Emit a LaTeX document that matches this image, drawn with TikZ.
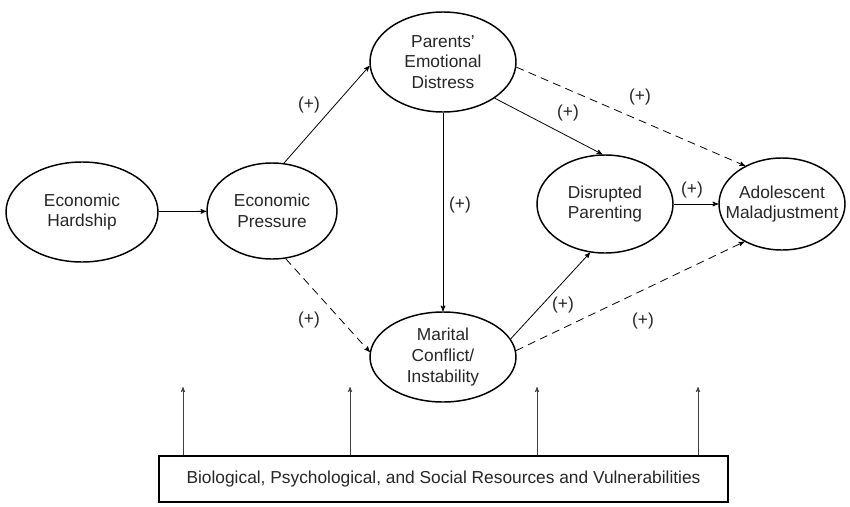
\documentclass[tikz,border=0pt]{standalone}
\usepackage{fontspec}
\setmainfont{Liberation Sans}
\usepackage{tikz}
\usetikzlibrary{arrows, shapes}
\tikzset{
		factor/.style={draw, ellipse, line width=1.1pt, inner sep=0pt, align=center},
		sign/.style={inner sep=0pt},
		resources/.style={draw, rectangle, line width=1.2pt, inner sep=0pt},
		dashed link/.style={dash pattern=on 6pt off 4pt},
		influence/.style={draw=black!75, line width=0.45pt}
	}

\begin{document}
\begin{tikzpicture}[>=stealth', x=0.75pt, y=-0.75pt, line width=0.6pt, text=black!85,
		font=\fontsize{13}{15.5}\selectfont]
		\useasboundingbox (0,0) rectangle (850,507);

		\node[factor, minimum width=114pt,   minimum height=75pt]   (eh)  at (82,212)  {Economic\\Hardship};
		\node[factor, minimum width=97.5pt,  minimum height=72pt]   (ep)  at (272,211) {Economic\\Pressure};
		\node[factor, minimum width=109.5pt, minimum height=75pt]   (ped) at (443,62)  {Parents'\\Emotional\\Distress};
		\node[factor, minimum width=109.5pt, minimum height=67.5pt] (mc)  at (443,357) {Marital\\Conflict/\\Instability};
		\node[factor, minimum width=102pt,   minimum height=73.5pt] (dp)  at (605,204) {Disrupted\\Parenting};
		\node[factor, minimum width=94.5pt,  minimum height=69pt, inner xsep=-10pt] (am) at (782,204) {Adolescent\\Maladjustment};
		\node[resources, minimum width=426.75pt, minimum height=34.5pt] (res) at (443.5,479)
			{Biological, Psychological, and Social Resources and Vulnerabilities};

		\path[->] (eh)       edge                  (ep);
		\path[->] (ep.76)    edge                  (ped.183);
		\path[->] (ep.286)   edge [dashed link]    (mc.176);
		\path[->] (ped.270)  edge                  (mc.90);
		\path[->] (ped.325)  edge                  (dp.93);
		\path[->] (ped.356)  edge [dashed link]    (am.134);
		\path[->] (mc.15)    edge                  (dp.253);
		\path[->] (mc.5)     edge [dashed link]    (am.225);
		\path[->] (dp)       edge                  (am);

		\node[sign] (s1) at (309,105) {(+)};
		\node[sign] (s2) at (309,320) {(+)};
		\node[sign] (s3) at (460,205) {(+)};
		\node[sign] (s4) at (568,113) {(+)};
		\node[sign] (s5) at (640,97)  {(+)};
		\node[sign] (s6) at (692,190) {(+)};
		\node[sign] (s7) at (563,305) {(+)};
		\node[sign] (s8) at (643,321) {(+)};

		\coordinate (r1) at (183,387);
		\coordinate (r2) at (350,387);
		\coordinate (r3) at (537,387);
		\coordinate (r4) at (698,387);
		\foreach \r in {r1, r2, r3, r4}
			\path[->] (res.north -| \r) edge [influence] (\r);
\end{tikzpicture}
\end{document}
